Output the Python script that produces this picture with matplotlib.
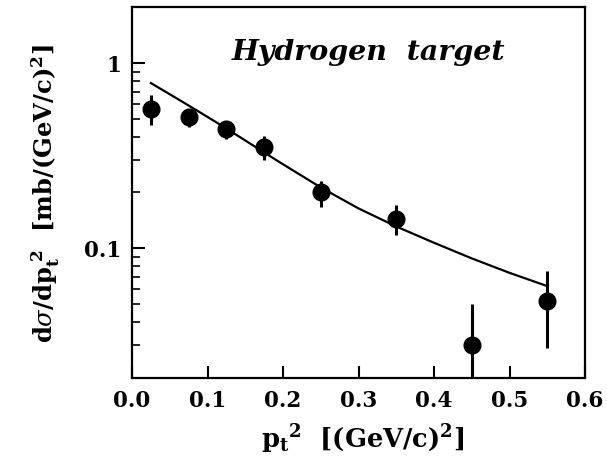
import matplotlib
matplotlib.use("Agg")
import matplotlib.pyplot as plt
from matplotlib.ticker import FixedLocator, NullFormatter, NullLocator

plt.rcParams['font.family'] = ['DejaVu Serif']
plt.rcParams['mathtext.fontset'] = 'dejavuserif'

# data points
pt2 = [0.025, 0.075, 0.125, 0.175, 0.25, 0.35, 0.45, 0.55]
dsig = [0.566, 0.511, 0.441, 0.354, 0.200, 0.144, 0.030, 0.052]
err_hi = [0.674, 0.560, 0.487, 0.406, 0.232, 0.171, 0.050, 0.0757]
err_lo = [0.464, 0.449, 0.390, 0.300, 0.168, 0.118, 0.005, 0.0288]

# fit curve
curve_x = [0.025, 0.05, 0.075, 0.1, 0.125, 0.15, 0.175, 0.2, 0.25, 0.3, 0.35, 0.4, 0.45, 0.5, 0.55]
curve_y = [0.780, 0.679, 0.590, 0.512, 0.443, 0.382, 0.329, 0.284, 0.213, 0.164, 0.131,
           0.107, 0.0881, 0.0736, 0.0624]

xticks = [0.0, 0.1, 0.2, 0.3, 0.4, 0.5, 0.6]
xticklabels = ['0.0', '0.1', '0.2', '0.3', '0.4', '0.5', '0.6']

fig = plt.figure(figsize=(6.07, 4.57), dpi=100)
ax = fig.add_axes([0.2175, 0.1729, 0.7463, 0.8118])

yerr = [[d - l for d, l in zip(dsig, err_lo)], [h - d for d, h in zip(dsig, err_hi)]]
ax.errorbar(pt2, dsig, yerr=yerr, fmt='o', color='black', markersize=12,
            elinewidth=2.2, capsize=0, zorder=3)
ax.plot(curve_x, curve_y, color='black', linewidth=1.6, zorder=2)

ax.set_yscale('log')
ax.set_xlim(0.0, 0.6)
ax.set_ylim(0.0199, 2.01)

ax.xaxis.set_major_locator(FixedLocator(xticks))
ax.set_xticklabels(xticklabels)
ax.xaxis.set_minor_locator(NullLocator())
ax.yaxis.set_major_locator(FixedLocator([0.1, 1.0]))
ax.set_yticklabels(['0.1', '1'])
minor = [m * 10.0 ** e for e in (-2, -1, 0) for m in range(2, 10)]
ax.yaxis.set_minor_locator(FixedLocator(minor))
ax.yaxis.set_minor_formatter(NullFormatter())

ax.tick_params(axis='both', which='major', direction='in', length=9, width=1.5,
               labelsize=15.5, top=False, right=False)
ax.tick_params(axis='x', which='major', pad=9)
ax.tick_params(axis='y', which='major', pad=8)
ax.tick_params(axis='y', which='minor', direction='in', length=6, width=1.2, right=False)
for lab in ax.get_xticklabels() + ax.get_yticklabels():
    lab.set_fontweight('bold')
for s in ax.spines.values():
    s.set_linewidth(1.6)

fig.text(362.5 / 607, 1 - 448 / 457,
         r'$\mathbf{p_t}^{\mathbf{2}}$  [(GeV/c)$^{\mathbf{2}}$]', fontsize=18.5,
         fontweight='bold', ha='center', va='baseline')
fig.text(46 / 607, 1 - 194 / 457,
         r'd$\sigma$/dp$_{\mathbf{t}}^{\ \mathbf{2}}$  [mb/(GeV/c)$^{\mathbf{2}}$]', fontsize=17.5,
         fontweight='bold', ha='center', va='center', rotation=90)

ax.text(0.522, 0.857, 'Hydrogen  target', transform=ax.transAxes, ha='center', va='baseline',
        fontsize=20.5, fontweight='bold', fontstyle='italic')

fig.savefig('out.png', dpi=100)
